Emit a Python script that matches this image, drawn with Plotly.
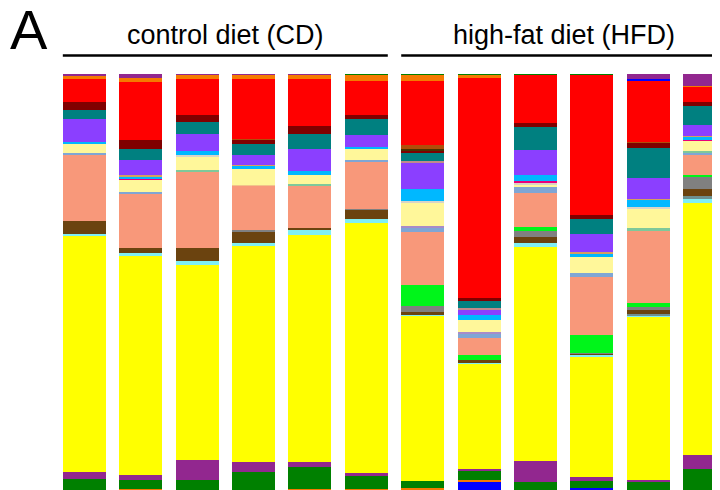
import plotly.graph_objects as go

# Samples: 6 control diet (CD), 6 high-fat diet (HFD)
samples = ["CD1", "CD2", "CD3", "CD4", "CD5", "CD6",
           "HFD1", "HFD2", "HFD3", "HFD4", "HFD5", "HFD6"]
group_labels = ["control diet (CD)", "high-fat diet (HFD)"]

# Relative abundance (%) of each taxon, stacked bottom -> top
blue_b      = [0, 0, 0, 0, 0, 0, 0, 1.9, 0, 0.5, 0, 0]
orange_b    = [0, 0.2, 0.1, 0, 0.2, 0.2, 0.5, 0.5, 0, 0, 0, 0]
green       = [2.6, 2.2, 2.3, 4.3, 5.3, 3.1, 1.7, 2.2, 1.9, 1.7, 1.9, 5.0]
purple      = [1.7, 1.2, 4.8, 2.4, 1.2, 0.7, 0, 0.5, 5.0, 1.0, 0.5, 3.4]
yellow      = [56.7, 52.6, 46.9, 51.7, 54.6, 60.1, 39.7, 25.2, 51.4, 28.8, 39.4, 60.5]
lightcyan   = [0.5, 0.7, 1.0, 0.7, 1.2, 1.0, 0.2, 0.2, 1.0, 0.5, 0.2, 1.0]
slate       = [0, 0, 0, 0, 0, 0, 0, 0, 0, 0, 0.2, 0.6]
brown       = [3.1, 1.2, 3.1, 2.9, 0.5, 2.2, 0.7, 0.7, 1.4, 0.2, 1.0, 1.9]
gray        = [0, 0, 0, 0.2, 0, 0.2, 1.4, 0, 1.4, 0.2, 0.7, 2.8]
brightgreen = [0, 0, 0, 0, 0, 0, 5.0, 1.2, 1.0, 4.3, 1.0, 0.4]
salmon      = [15.9, 13.0, 18.3, 10.8, 10.1, 11.3, 12.7, 4.1, 8.2, 13.9, 17.3, 5.0]
lightsteel  = [0.5, 0.5, 0, 0, 0, 0.5, 1.2, 1.2, 1.4, 1.0, 0, 0.4]
wheat       = [0, 0, 0, 0.2, 0, 0, 0, 0, 0, 0, 0, 0]
mauve       = [0, 0, 0, 0, 0, 0, 0.2, 0.2, 0, 0, 0, 0]
mint        = [0, 0, 0.5, 0, 0.5, 0, 0, 0, 0, 0, 0.7, 0.3]
lightyellow = [2.2, 2.9, 3.4, 3.8, 2.2, 2.6, 5.8, 2.9, 0.5, 3.8, 4.6, 2.6]
pale        = [0.2, 0, 0.2, 0, 0, 0, 0.2, 0, 0.5, 0, 0.6, 0]
magenta     = [0, 0.2, 0, 0, 0, 0, 0, 0, 0.5, 0, 0, 0.2]
cyan        = [0.3, 0.7, 1.0, 0.7, 1.0, 0.5, 2.9, 1.2, 1.4, 1.0, 1.7, 0.7]
tan         = [0, 0.2, 0, 0.2, 0, 0, 0, 0, 0, 0.2, 0.2, 0.2]
violet      = [5.5, 3.6, 4.1, 2.4, 5.3, 2.9, 6.3, 1.2, 6.0, 4.3, 5.1, 2.6]
rosy        = [0, 0, 0, 0, 0, 0, 0.5, 0.5, 0, 0, 0, 0]
teal        = [2.2, 2.6, 2.9, 2.6, 3.6, 3.8, 1.9, 1.7, 5.5, 3.6, 7.2, 4.6]
darkred     = [1.9, 2.2, 1.7, 1.0, 1.9, 1.0, 0.5, 0.7, 1.0, 1.0, 1.2, 1.0]
darkolive   = [0, 0, 0, 0, 0, 0, 0.5, 0, 0, 0, 0, 0]
sienna      = [0, 0, 0, 0.2, 0, 0, 1.0, 0, 0, 0, 0.2, 0]
red         = [5.5, 13.9, 8.7, 14.4, 11.3, 8.2, 15.4, 52.9, 11.5, 33.7, 14.7, 3.7]
orange      = [0.8, 1.0, 1.0, 1.0, 1.0, 1.4, 1.4, 0.8, 0, 0, 0, 0.2]
blue_t      = [0, 0, 0, 0, 0, 0, 0, 0, 0, 0, 0.3, 0]
purple_t    = [0.4, 1.0, 0.2, 0.2, 0.2, 0, 0, 0, 0, 0, 1.3, 2.8]
green_t     = [0, 0, 0, 0, 0, 0.2, 0.2, 0.1, 0.2, 0.2, 0, 0]

taxa = [
    ("blue_b", blue_b, "#0000FF"),
    ("orange_b", orange_b, "#F57A00"),
    ("green", green, "#008000"),
    ("purple", purple, "#92278F"),
    ("yellow", yellow, "#FFFF00"),
    ("lightcyan", lightcyan, "#7FEFF5"),
    ("slate", slate, "#6F8F8F"),
    ("brown", brown, "#6B430F"),
    ("gray", gray, "#808080"),
    ("brightgreen", brightgreen, "#00F51A"),
    ("salmon", salmon, "#F8987A"),
    ("lightsteel", lightsteel, "#80A6D4"),
    ("wheat", wheat, "#F2C48A"),
    ("mauve", mauve, "#A88CC8"),
    ("mint", mint, "#7FC89A"),
    ("lightyellow", lightyellow, "#FFF79A"),
    ("pale", pale, "#D8D4C8"),
    ("magenta", magenta, "#E8007A"),
    ("cyan", cyan, "#00B8FF"),
    ("tan", tan, "#D4A060"),
    ("violet", violet, "#8B3FFF"),
    ("rosy", rosy, "#C08A8A"),
    ("teal", teal, "#008080"),
    ("darkred", darkred, "#800000"),
    ("darkolive", darkolive, "#4A3300"),
    ("sienna", sienna, "#B04E0A"),
    ("red", red, "#FF0000"),
    ("orange", orange, "#F57A00"),
    ("blue_t", blue_t, "#0000FF"),
    ("purple_t", purple_t, "#92278F"),
    ("green_t", green_t, "#008000"),
]

xpos = list(range(len(samples)))
BAR_W = 0.762

fig = go.Figure()
for name, vals, col in taxa:
    fig.add_trace(go.Bar(
        x=xpos, y=vals, name=name, width=BAR_W,
        marker=dict(color=col, line=dict(width=0)),
        hoverinfo="name+y", showlegend=False,
    ))

FONT = "Liberation Sans, Arial, sans-serif"
fig.update_layout(
    width=720, height=490,
    margin=dict(l=0, r=0, t=66, b=8),
    barmode="stack", barnorm="percent", bargap=0,
    plot_bgcolor="white", paper_bgcolor="white",
    xaxis=dict(range=[-1.353, 11.413], visible=False, fixedrange=True),
    yaxis=dict(range=[0, 100], visible=False, fixedrange=True),
    showlegend=False,
    font=dict(family=FONT, color="black"),
)

# group brackets and labels
groups = [(0, 5, group_labels[0]), (6, 11, group_labels[1])]
for g0, g1, lab in groups:
    x0 = g0 - BAR_W / 2
    x1 = g1 + BAR_W / 2 + (0.6 if g1 == 11 else 0)
    fig.add_shape(type="line", xref="x", yref="paper",
                  x0=x0, x1=x1, y0=1.0445, y1=1.0445,
                  line=dict(color="black", width=2.7))
    fig.add_annotation(x=(g0 + g1) / 2, xref="x", y=1.093, yref="paper",
                       text=lab, showarrow=False, xanchor="center", yanchor="middle",
                       font=dict(size=27, family=FONT, color="black"))

fig.add_annotation(x=0.001, xref="paper", y=1.107, yref="paper",
                   text="A", showarrow=False, xanchor="left", yanchor="middle",
                   borderpad=0,
                   font=dict(size=56, family=FONT, color="black"))

fig.write_html("out.html")
